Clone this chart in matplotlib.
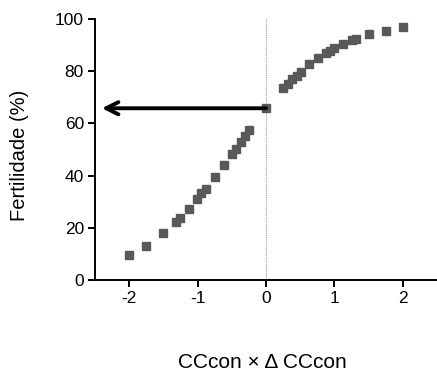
import matplotlib
matplotlib.use("Agg")
import matplotlib.pyplot as plt

plt.rcParams['font.family'] = ['Liberation Sans', 'DejaVu Sans']

x_vals = [-2.0, -1.75, -1.5, -1.32, -1.26, -1.13, -1.01, -0.95, -0.88, -0.75, -0.62,
          -0.5, -0.44, -0.37, -0.31, -0.25, 0.0,
          0.25, 0.32, 0.38, 0.45, 0.51, 0.63, 0.76, 0.88, 0.94, 1.0, 1.13, 1.25,
          1.32, 1.5, 1.75, 2.0]
y_vals = [9.5, 13.1, 18.0, 22.3, 23.8, 27.3, 31.0, 33.2, 35.0, 39.6, 43.9,
          48.4, 50.3, 52.7, 55.2, 57.5, 65.8,
          73.4, 75.1, 76.9, 78.3, 79.8, 82.6, 84.9, 86.9, 87.9, 88.8, 90.5, 91.8,
          92.4, 94.1, 95.5, 96.9]
x_ticks = [-2, -1, 0, 1, 2]
y_ticks = [0, 20, 40, 60, 80, 100]
arrow_start = (0.0, 65.8)
arrow_end = (-2.4, 65.8)

fig = plt.figure(figsize=(4.37, 3.71), dpi=100)
ax = fig.add_axes([0.2174, 0.2453, 0.7826, 0.7035])

ax.plot([0, 0], [0, 100], linestyle=(0, (1, 1)), color='#999999', lw=0.8, zorder=1)
ax.plot(x_vals, y_vals, linestyle='none', marker='s', markersize=5.2,
        color='#595959', zorder=3)
ax.annotate('', xy=arrow_end, xytext=arrow_start,
            arrowprops=dict(arrowstyle='->', lw=2.8, color='black',
                            mutation_scale=22, shrinkA=0, shrinkB=0), zorder=4)

ax.set_xlim(-2.5, 2.5)
ax.set_ylim(0, 100)
ax.set_xticks(x_ticks)
ax.set_yticks(y_ticks)
ax.set_xticklabels([str(t) for t in x_ticks])
for s in ['top', 'right']:
    ax.spines[s].set_visible(False)
for s in ['left', 'bottom']:
    ax.spines[s].set_linewidth(1.4)
ax.tick_params(axis='both', direction='out', length=5, width=1.4, labelsize=12.5,
               pad=3)
fig.text(20 / 437, 1 - 155 / 371, 'Fertilidade (%)', rotation=90, fontsize=14.5,
         ha='center', va='center')
fig.text((176 + 349) / 2 / 437, 1 - 368 / 371, 'CCcon × Δ CCcon', fontsize=15,
         ha='center', va='baseline')

fig.savefig('out.png', dpi=100)
